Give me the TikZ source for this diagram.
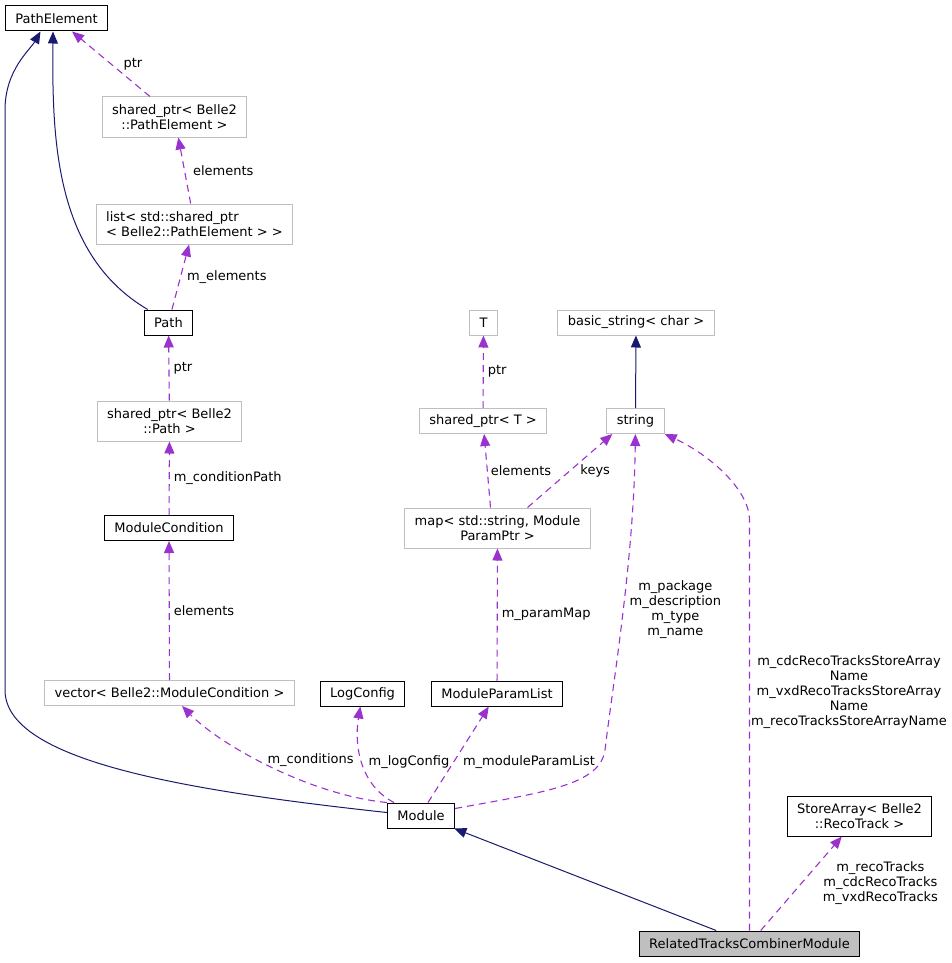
\documentclass[tikz,border=0pt]{standalone}
\usepackage{fontspec}
\setmainfont{DejaVu Sans}
\usetikzlibrary{arrows.meta,positioning}

\definecolor{inherit}{HTML}{191970}
\definecolor{usage}{HTML}{9A32CD}
\definecolor{undoc}{HTML}{BFBFBF}

\tikzset{
  box/.style={rectangle,draw,fill=white,align=center,line width=1pt,
    inner xsep=10pt,inner ysep=6pt,minimum height=25pt},
  tall/.style={minimum height=40pt},
  lbl/.style={align=center,inner sep=1pt},
  derives/.style={draw=inherit,line width=1pt,
    -{Triangle[length=12pt,width=10pt]}},
  uses/.style={draw=usage,line width=1.1pt,dash pattern=on 7pt off 5pt,
    -{Triangle[length=12pt,width=10pt]}}
}

\begin{document}
\begin{tikzpicture}[x=1pt,y=-1pt,font=\fontsize{13}{15}\selectfont]

      \useasboundingbox (0,0) rectangle (952,963);

      % documented classes
      \begin{scope}[every node/.style={box,draw=black}]
        \node (pe)   at (56.5,18.5)   {PathElement};
        \node (pth)  at (168.5,322.5) {Path};
        \node (mc)   at (169,528)     {ModuleCondition};
        \node (lc)   at (362.5,693.5) {LogConfig};
        \node (mpl)  at (497,693.5)   {ModuleParamList};
        \node (mod)  at (421,815.5)   {Module};
        \node[tall] (sa) at (859.5,816) {StoreArray< Belle2\\::RecoTrack >};
        \node[fill=undoc] (rtcm) at (749.5,943.5) {RelatedTracksCombinerModule};
      \end{scope}

      % undocumented classes
      \begin{scope}[every node/.style={box,draw=undoc}]
        \node[tall] (sppe) at (174.5,117) {shared\_ptr< Belle2\\::PathElement >};
        \node[tall,align=left] (lst) at (194.5,224) {list< std::shared\_ptr\\< Belle2::PathElement > >};
        \node[tall] (sppath) at (169.5,421) {shared\_ptr< Belle2\\::Path >};
        \node (vmc)  at (169.5,693)  {vector< Belle2::ModuleCondition >};
        \node (t)    at (483.5,322.5) {T};
        \node (spt)  at (483,421)    {shared\_ptr< T >};
        \node (bs)   at (636,322.5)  {basic\_string< char >};
        \node (str)  at (635.5,421)  {string};
        \node[tall] (map) at (497.5,528) {map< std::string, Module\\ParamPtr >};
      \end{scope}

      % inheritance
      \draw[derives] ([yshift=3pt]mod.west) .. controls (180,790) and (5,760) .. (5,690)
        -- (5,110) .. controls (5,70) and (30,50) .. ([xshift=-16pt]pe.south);
      \draw[derives] ([xshift=4pt]pth.north west) .. controls (55,255) and (52,140) .. ([xshift=-3.5pt]pe.south);
      \path (str)  edge[derives] (bs);
      \path (rtcm) edge[derives] (mod);

      % usage
      \begin{scope}[every edge/.style=uses]
        \path (sppe)   edge node[lbl,right=11pt] {ptr} (pe);
        \path (lst)    edge node[lbl,right=7pt] {elements} (sppe);
        \path (pth)    edge node[lbl,right=5pt] {m\_elements} (lst);
        \path (sppath) edge node[lbl,right=3pt] {ptr} (pth);
        \path (mc)     edge node[lbl,right=3pt] {m\_conditionPath} (sppath);
        \path ([xshift=-7pt]map.north) edge node[lbl,right=2pt] {elements} (spt);
        \path ([xshift=30pt]map.north) edge node[lbl,right=9pt] {keys} ([xshift=6pt]str.south west);
        \path ([xshift=7pt]mod.north) edge node[lbl,pos=0.42,right=8pt] {m\_moduleParamList} (mpl);
        \path (rtcm)   edge node[lbl,right=20pt] {m\_recoTracks\\m\_cdcRecoTracks\\m\_vxdRecoTracks} (sa);
      \end{scope}

      \draw[uses] (vmc) -- node[lbl,right=3pt] {elements} (mc);
      \draw[uses] (spt) -- node[lbl,right=3pt] {ptr} (t);
      \draw[uses] (mpl) -- node[lbl,right=3pt] {m\_paramMap} (map);
      \draw[uses] (mod.north west) .. controls (310,795) and (220,745) .. (vmc)
        node[lbl,pos=0.55,right=7pt] {m\_conditions};
      \draw[uses] ([xshift=-27pt]mod.north) .. controls (360,785) and (354,745) .. (lc)
        node[lbl,pos=0.5,right=5pt] {m\_logConfig};
      \draw[uses] ([yshift=7pt]mod.east) .. controls (545,792) and (600,785) .. (605,750)
        .. controls (612,690) and (634,560) .. (str)
        node[lbl,pos=0.52,right=5pt] {m\_package\\m\_description\\m\_type\\m\_name};
      \draw[uses] (rtcm.north) -- node[lbl,pos=0.58,right=0pt]
        {m\_cdcRecoTracksStoreArray\\Name\\m\_vxdRecoTracksStoreArray\\Name\\m\_recoTracksStoreArrayName}
        (749.5,520) .. controls (749.5,490) and (710,455) .. (str.south east);

    \end{tikzpicture}
\end{document}
